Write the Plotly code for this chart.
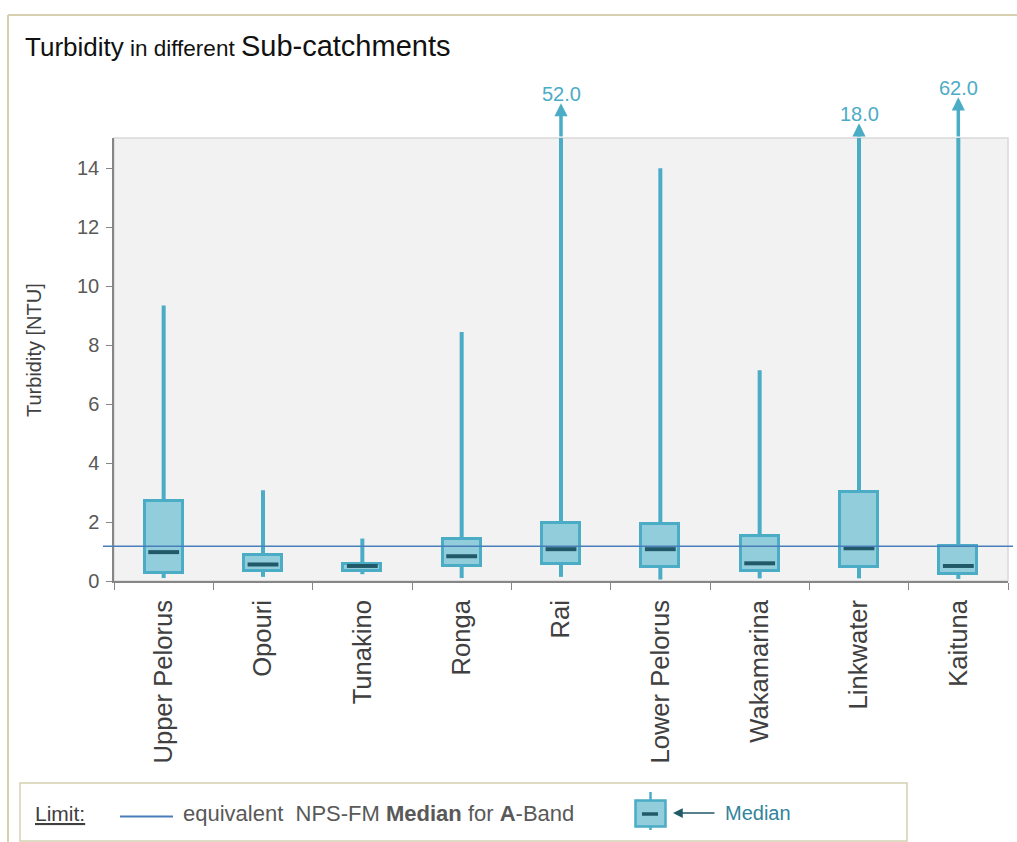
import plotly.graph_objects as go

# Sub-catchment turbidity summary statistics (NTU)
categories = ["Upper Pelorus", "Opouri", "Tunakino", "Ronga", "Rai",
              "Lower Pelorus", "Wakamarina", "Linkwater", "Kaituna"]
minimum = [0.10, 0.14, 0.23, 0.10, 0.14, 0.05, 0.09, 0.09, 0.07]
lower_quartile = [0.28, 0.33, 0.33, 0.51, 0.57, 0.48, 0.34, 0.48, 0.23]
median = [0.98, 0.56, 0.51, 0.84, 1.08, 1.08, 0.60, 1.11, 0.51]
upper_quartile = [2.70, 0.87, 0.59, 1.44, 1.97, 1.92, 1.54, 3.01, 1.20]
maximum = [9.35, 3.08, 1.44, 8.45, 52.0, 14.0, 7.15, 18.0, 62.0]

# NPS-FM equivalent median limit for the A-band
limit_value = 1.18

y_ticks = [0, 2, 4, 6, 8, 10, 12, 14]
y_top = 15.03

FONT = "Liberation Sans, Arial, sans-serif"
BOX_LINE = "#4bacc6"
BOX_FILL = "#92cddc"
MEDIAN_COL = "#215968"
LIMIT_COL = "#4a7ebb"
FRAME_COL = "#d6cfb0"

W, H = 1017, 842
ML, MR, MT, MB = 114, 9, 138, 261
PW, PH = W - ML - MR, H - MT - MB


def px(x):
    return (x - ML) / PW


def py(y):
    return (H - MB - y) / PH


fig = go.Figure()

# Inter-quartile boxes
fig.add_trace(go.Bar(
    x=categories,
    y=[u - l for u, l in zip(upper_quartile, lower_quartile)],
    base=lower_quartile,
    width=0.385,
    marker=dict(color=BOX_FILL, line=dict(color=BOX_LINE, width=3)),
    hoverinfo="skip",
    showlegend=False,
))

# Whiskers (the upper one is capped at the top of the axis)
wx, wy = [], []
for c, lo, q1, q3, hi in zip(categories, minimum, lower_quartile,
                             upper_quartile, maximum):
    wx += [c, c, None, c, c, None]
    wy += [q3, min(hi, y_top), None, q1, lo, None]
fig.add_trace(go.Scatter(
    x=wx, y=wy, mode="lines",
    line=dict(color=BOX_LINE, width=4),
    hoverinfo="skip", showlegend=False,
))

# Medians
fig.add_trace(go.Scatter(
    x=categories, y=median, mode="markers",
    marker=dict(symbol="line-ew", size=22,
                line=dict(color=MEDIAN_COL, width=4)),
    hoverinfo="skip", showlegend=False,
))

annotations = []
shapes = []

# Maxima above the axis: arrow continuing the whisker plus the value
overflow_gap = 0.44
overflow_scale = 0.02
for i, hi in enumerate(maximum):
    if hi > y_top:
        tip = y_top + overflow_gap + overflow_scale * (hi - y_top)
        annotations.append(dict(
            x=i, y=tip, ax=i, ay=y_top, xref="x", yref="y",
            axref="x", ayref="y", text="", showarrow=True,
            arrowhead=2, arrowsize=0.75, arrowwidth=3.5,
            arrowcolor=BOX_LINE, standoff=0, startstandoff=0,
        ))
        annotations.append(dict(
            x=i, y=tip / y_top, xref="x", yref="paper", text=f"{hi:.1f}",
            showarrow=False, yanchor="bottom", yshift=-4,
            font=dict(family=FONT, size=20, color=BOX_LINE),
        ))

# Limit line
shapes.append(dict(
    type="line", xref="paper", yref="y",
    x0=px(103), x1=px(1013), y0=limit_value, y1=limit_value,
    line=dict(color=LIMIT_COL, width=1.5), layer="above",
))

# Plot area outline (top / right)
shapes.append(dict(
    type="rect", xref="paper", yref="paper", x0=0, x1=1, y0=0, y1=1,
    line=dict(color="#d9d9d9", width=1.5), layer="below",
))

# Outer frame
shapes.append(dict(type="line", xref="paper", yref="paper",
                   x0=px(8), x1=px(1020), y0=py(15), y1=py(15),
                   line=dict(color=FRAME_COL, width=2)))
shapes.append(dict(type="line", xref="paper", yref="paper",
                   x0=px(8), x1=px(8), y0=py(15), y1=py(845),
                   line=dict(color=FRAME_COL, width=2)))

# Key box
shapes.append(dict(type="rect", xref="paper", yref="paper",
                   x0=px(20), x1=px(907), y0=py(841), y1=py(783),
                   line=dict(color=FRAME_COL, width=1.5),
                   fillcolor="white"))
shapes.append(dict(type="line", xref="paper", yref="paper",
                   x0=px(120), x1=px(173), y0=py(816.5), y1=py(816.5),
                   line=dict(color=LIMIT_COL, width=2)))
# Key: box symbol
shapes.append(dict(type="line", xref="paper", yref="paper",
                   x0=px(650.5), x1=px(650.5), y0=py(792), y1=py(830),
                   line=dict(color=BOX_LINE, width=2.5)))
shapes.append(dict(type="rect", xref="paper", yref="paper",
                   x0=px(635.5), x1=px(665.5), y0=py(826.5), y1=py(800.5),
                   line=dict(color=BOX_LINE, width=2.5),
                   fillcolor=BOX_FILL))
shapes.append(dict(type="line", xref="paper", yref="paper",
                   x0=px(642), x1=px(658), y0=py(814), y1=py(814),
                   line=dict(color=MEDIAN_COL, width=3.5)))

annotations += [
    dict(xref="paper", yref="paper", x=px(33), y=py(813),
         xanchor="left", yanchor="middle", showarrow=False,
         text="<u>Limit:</u>",
         font=dict(family=FONT, size=21, color="#404040")),
    dict(xref="paper", yref="paper", x=px(181), y=py(813),
         xanchor="left", yanchor="middle", showarrow=False,
         text="equivalent&nbsp; NPS-FM <b>Median</b> for <b>A</b>-Band",
         font=dict(family=FONT, size=22, color="#595959")),
    dict(xref="paper", yref="paper", x=px(673), y=py(813),
         ax=43, ay=0, axref="pixel", ayref="pixel",
         text="", showarrow=True, arrowhead=2, arrowsize=1.3,
         arrowwidth=1.5, arrowcolor=MEDIAN_COL, standoff=0),
    dict(xref="paper", yref="paper", x=px(723), y=py(813),
         xanchor="left", yanchor="middle", showarrow=False,
         text="Median",
         font=dict(family=FONT, size=20, color="#31849b")),
    # Axis title
    dict(xref="paper", yref="paper", x=px(34), y=py(350),
         xanchor="center", yanchor="middle", showarrow=False,
         textangle=-90, text="Turbidity [NTU]",
         font=dict(family=FONT, size=20, color="#404040")),
]

fig.update_layout(
    width=W, height=H,
    margin=dict(l=ML, r=MR, t=MT, b=MB, pad=0),
    paper_bgcolor="white",
    plot_bgcolor="#f2f2f2",
    font=dict(family=FONT, color="#404040"),
    title=dict(
        text=("<span style='font-size:26px'>Turbidity</span>"
              "<span style='font-size:22.5px'> in different </span>"
              "<span style='font-size:29px'>Sub-catchments</span>"),
        xref="container", yref="container",
        x=25 / W, y=1 - 50 / H, xanchor="left", yanchor="middle",
        font=dict(family=FONT, color="#111111"),
    ),
    xaxis=dict(
        type="category", categoryorder="array", categoryarray=categories,
        tickson="boundaries", ticks="outside", ticklen=7,
        tickcolor="#868686", showline=True, linecolor="#868686",
        linewidth=1.5, showgrid=False, tickangle=-90,
        ticklabelstandoff=7,
        tickfont=dict(family=FONT, size=25.6, color="#404040"),
        range=[-0.5, len(categories) - 0.5], zeroline=False,
    ),
    yaxis=dict(
        range=[0, y_top], tickvals=y_ticks, ticks="outside", ticklen=6,
        tickcolor="#868686", showline=True, linecolor="#868686",
        linewidth=1.5, showgrid=False, zeroline=False,
        ticklabelstandoff=3,
        tickfont=dict(family=FONT, size=20, color="#595959"),
    ),
    bargap=0,
    shapes=shapes,
    annotations=annotations,
)

fig.write_html("out.html")
